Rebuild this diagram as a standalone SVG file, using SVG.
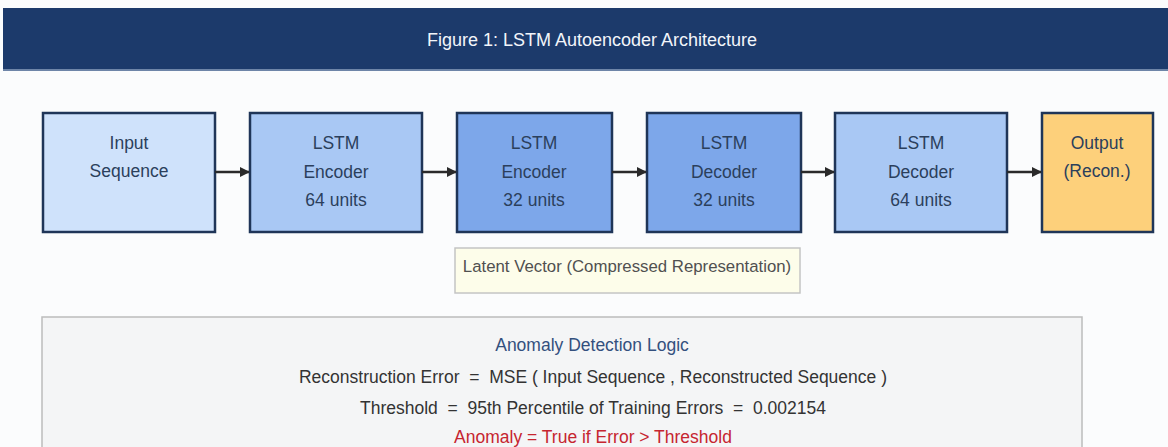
<svg xmlns="http://www.w3.org/2000/svg" width="1168" height="447" viewBox="0 0 1168 447">
<defs>
<style>
.bg{fill:#fbfcfd}
.node{stroke:#1f3558;stroke-width:2.5}
.t{font-family:"Liberation Sans",Arial,sans-serif;font-size:17.5px;fill:#2b3f5c;text-anchor:middle}
.c{stroke:#2a2a2a;stroke-width:2.5;fill:none}
.s{font-family:"Liberation Sans",Arial,sans-serif;font-size:17.5px;text-anchor:middle}
</style>
<marker id="ah" markerWidth="10" markerHeight="10" refX="9" refY="5" orient="auto" markerUnits="userSpaceOnUse">
<path d="M0,0 L10,5 L0,10 Z" fill="#2a2a2a"/>
</marker>
</defs>
<rect class="bg" x="0" y="0" width="1168" height="447"/>
<g id="header">
<rect x="3" y="8" width="1165" height="61" fill="#1c3a6b"/>
<rect x="3" y="69" width="1165" height="2" fill="#6e85a8"/>
<text x="592" y="46" style="font-family:'Liberation Sans',Arial,sans-serif;font-size:18px;fill:#f2f5fa;text-anchor:middle">Figure 1: LSTM Autoencoder Architecture</text>
</g>
<g id="input">
<rect class="node" x="43" y="113" width="172" height="119" fill="#cfe2fb"/>
<text class="t" x="129" y="149">Input</text>
<text class="t" x="129" y="177">Sequence</text>
</g>
<g id="enc64">
<rect class="node" x="250" y="113" width="172" height="119" fill="#a9c8f4"/>
<text class="t" x="336" y="149">LSTM</text>
<text class="t" x="336" y="178">Encoder</text>
<text class="t" x="336" y="206">64 units</text>
</g>
<g id="enc32">
<rect class="node" x="457" y="113" width="155" height="119" fill="#7da7ea"/>
<text class="t" x="534" y="149">LSTM</text>
<text class="t" x="534" y="178">Encoder</text>
<text class="t" x="534" y="206">32 units</text>
</g>
<g id="dec32">
<rect class="node" x="647" y="113" width="154" height="119" fill="#7da7ea"/>
<text class="t" x="724" y="149">LSTM</text>
<text class="t" x="724" y="178">Decoder</text>
<text class="t" x="724" y="206">32 units</text>
</g>
<g id="dec64">
<rect class="node" x="835" y="113" width="172" height="119" fill="#a9c8f4"/>
<text class="t" x="921" y="149">LSTM</text>
<text class="t" x="921" y="178">Decoder</text>
<text class="t" x="921" y="206">64 units</text>
</g>
<g id="output">
<rect class="node" x="1042" y="113" width="111" height="119" fill="#fdd07b"/>
<text class="t" x="1097" y="149">Output</text>
<text class="t" x="1097" y="177">(Recon.)</text>
</g>
<g id="connectors">
<line class="c" x1="215" y1="172" x2="249" y2="172" marker-end="url(#ah)"/>
<line class="c" x1="422" y1="172" x2="456" y2="172" marker-end="url(#ah)"/>
<line class="c" x1="612" y1="172" x2="646" y2="172" marker-end="url(#ah)"/>
<line class="c" x1="801" y1="172" x2="834" y2="172" marker-end="url(#ah)"/>
<line class="c" x1="1007" y1="172" x2="1041" y2="172" marker-end="url(#ah)"/>
</g>
<g id="latent">
<rect x="455" y="248" width="345" height="45" fill="#fdfdea" stroke="#c4c4c4" stroke-width="1.5"/>
<text x="627" y="272" style="font-family:'Liberation Sans',Arial,sans-serif;font-size:16.8px;fill:#505050;text-anchor:middle">Latent Vector (Compressed Representation)</text>
</g>
<g id="logic">
<rect x="42" y="317" width="1040" height="140" fill="#f4f5f6" stroke="#bcbcbc" stroke-width="1.5"/>
<text class="s" x="592" y="351" fill="#33507e">Anomaly Detection Logic</text>
<text class="s" x="593" y="383" fill="#333333" xml:space="preserve">Reconstruction Error  =  MSE ( Input Sequence , Reconstructed Sequence )</text>
<text class="s" x="593" y="414" fill="#333333" xml:space="preserve">Threshold  =  95th Percentile of Training Errors  =  0.002154</text>
<text class="s" x="593" y="443" fill="#c62530">Anomaly = True  if  Error &gt; Threshold</text>
</g>
</svg>
